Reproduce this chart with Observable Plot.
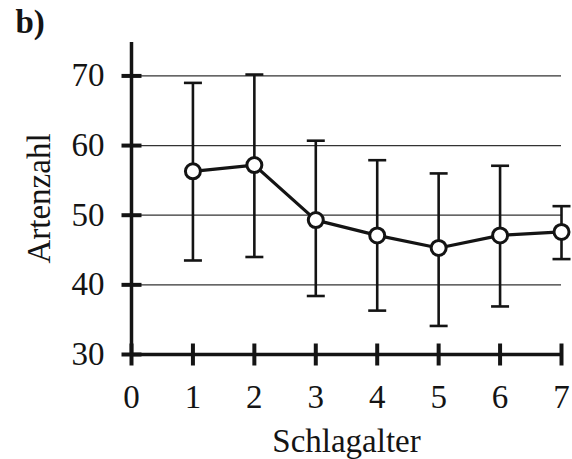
<!DOCTYPE html>
<html>
<head>
<meta charset="utf-8">
<script src="https://cdn.jsdelivr.net/npm/d3@7"></script>
<script src="https://cdn.jsdelivr.net/npm/@observablehq/plot@0.6"></script>
<style>
  html, body { margin: 0; padding: 0; background: #fff; }
</style>
</head>
<body>
<div id="chart"></div>
<script>
const ages = [1, 2, 3, 4, 5, 6, 7];
const meanSpecies = [56.3, 57.2, 49.3, 47.1, 45.3, 47.1, 47.6];
const upperBound = [69.0, 70.2, 60.7, 57.9, 56.0, 57.1, 51.3];
const lowerBound = [43.5, 44.0, 38.4, 36.3, 34.1, 36.9, 43.7];
const xTicks = [0, 1, 2, 3, 4, 5, 6, 7];
const yTicks = [30, 40, 50, 60, 70];
const gridValues = [40, 50, 60, 70];
const panelLabel = "b)";
const xLabel = "Schlagalter";
const yLabel = "Artenzahl";

const data = ages.map((a, i) => ({age: a, mean: meanSpecies[i], lo: lowerBound[i], hi: upperBound[i]}));

const hBar = {draw(ctx, size) { const r = Math.sqrt(size / Math.PI); ctx.moveTo(-r, 0); ctx.lineTo(r, 0); }};
const vBar = {draw(ctx, size) { const r = Math.sqrt(size / Math.PI); ctx.moveTo(0, -r); ctx.lineTo(0, r); }};

const ink = "#141414";
const fs = 33;

const chart = Plot.plot({
  width: 572,
  height: 459,
  marginLeft: 131,
  marginRight: 11,
  marginTop: 42,
  marginBottom: 105,
  x: {domain: [0, 7]},
  y: {domain: [30, 74.8]},
  style: {fontFamily: "'Liberation Serif', 'DejaVu Serif', serif", fontSize: "33px", color: ink, background: "#fff"},
  marks: [
    Plot.ruleY(gridValues, {stroke: "#333", strokeWidth: 1.2}),
    Plot.axisX(xTicks, {tickSize: 0, tickPadding: 30, label: null, fontSize: fs, tickFormat: d => String(d)}),
    Plot.axisY(yTicks, {tickSize: 0, tickPadding: 27, label: null, fontSize: fs, tickFormat: d => String(d)}),
    Plot.ruleX([0], {stroke: ink, strokeWidth: 3.5}),
    Plot.ruleY([30], {stroke: ink, strokeWidth: 3.5}),
    Plot.dot(yTicks, {x: () => 0, y: d => d, symbol: hBar, r: 10, fill: "none", stroke: ink, strokeWidth: 4}),
    Plot.dot(xTicks, {x: d => d, y: () => 30, symbol: vBar, r: 11, fill: "none", stroke: ink, strokeWidth: 4}),
    Plot.ruleX(data, {x: "age", y1: "lo", y2: "hi", stroke: ink, strokeWidth: 2.6}),
    Plot.dot(data, {x: "age", y: "hi", symbol: hBar, r: 9, fill: "none", stroke: ink, strokeWidth: 2.6}),
    Plot.dot(data, {x: "age", y: "lo", symbol: hBar, r: 9, fill: "none", stroke: ink, strokeWidth: 2.6}),
    Plot.line(data, {x: "age", y: "mean", stroke: ink, strokeWidth: 3.2}),
    Plot.dot(data, {x: "age", y: "mean", r: 7.5, fill: "#fff", stroke: ink, strokeWidth: 3}),
    Plot.text([yLabel], {frameAnchor: "left", dx: -92, rotate: -90, lineAnchor: "middle", textAnchor: "middle", fontSize: fs, fill: ink}),
    Plot.text([xLabel], {frameAnchor: "bottom", dy: 87, lineAnchor: "middle", textAnchor: "middle", fontSize: fs, fill: ink}),
    Plot.text([panelLabel], {frameAnchor: "top-left", dx: -116, dy: -20, lineAnchor: "middle", textAnchor: "start", fontSize: fs, fontWeight: "bold", fill: ink})
  ]
});
document.getElementById("chart").append(chart);
</script>
</body>
</html>
